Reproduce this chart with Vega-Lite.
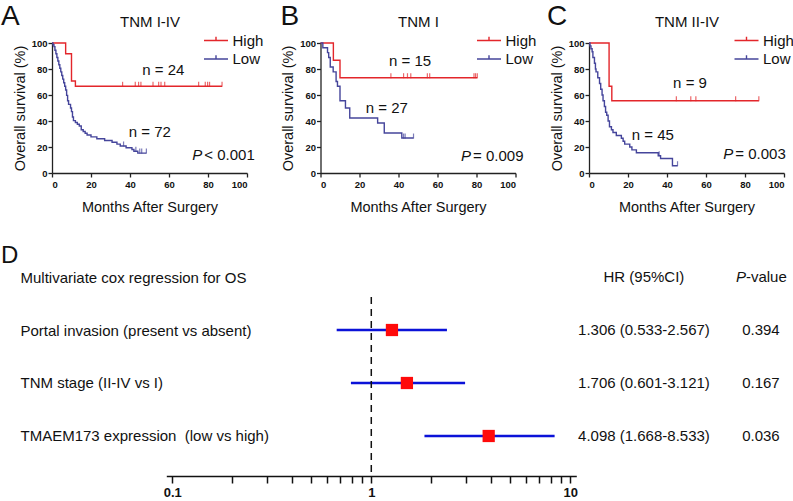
{
  "$schema": "https://vega.github.io/schema/vega-lite/v6.json",
  "background": "white",
  "padding": {"left": 1, "top": 3, "right": 0, "bottom": 0},
  "config": {
    "view": {"stroke": null},
    "font": "Liberation Sans, Arial, sans-serif",
    "axis": {"grid": false, "domainColor": "#222", "tickColor": "#222", "labelColor": "#111", "titleColor": "#111", "titleFontWeight": "normal"},
    "title": {"color": "#111", "fontWeight": "normal"},
    "text": {"color": "#111"},
    "legend": {"title": null, "orient": "none", "symbolType": "M-1.6,0L1.6,0M0,0L0,-0.5", "symbolSize": 225, "symbolStrokeWidth": 1.4, "labelFontSize": 15, "labelOffset": 8, "rowPadding": 1.5, "labelColor": "#111"}
  },
  "datasets": {
    "km": [
      {"panel":"A","group":"High","month":0,"surv":100},
      {"panel":"A","group":"High","month":7,"surv":91.7},
      {"panel":"A","group":"High","month":10,"surv":70.8},
      {"panel":"A","group":"High","month":12,"surv":66.7},
      {"panel":"A","group":"High","month":87.2,"surv":66.7},
      {"panel":"A","group":"Low","month":0,"surv":100},
      {"panel":"A","group":"Low","month":0.5,"surv":98.6},
      {"panel":"A","group":"Low","month":1,"surv":97.2},
      {"panel":"A","group":"Low","month":1.5,"surv":94.4},
      {"panel":"A","group":"Low","month":2,"surv":91.7},
      {"panel":"A","group":"Low","month":2.5,"surv":88.9},
      {"panel":"A","group":"Low","month":3,"surv":86.1},
      {"panel":"A","group":"Low","month":3.5,"surv":83.3},
      {"panel":"A","group":"Low","month":4,"surv":80.6},
      {"panel":"A","group":"Low","month":4.5,"surv":77.8},
      {"panel":"A","group":"Low","month":5,"surv":75},
      {"panel":"A","group":"Low","month":5.5,"surv":72.2},
      {"panel":"A","group":"Low","month":6,"surv":69.4},
      {"panel":"A","group":"Low","month":6.5,"surv":66.7},
      {"panel":"A","group":"Low","month":7,"surv":63.9},
      {"panel":"A","group":"Low","month":7.5,"surv":59.7},
      {"panel":"A","group":"Low","month":8,"surv":55.6},
      {"panel":"A","group":"Low","month":8.5,"surv":52.8},
      {"panel":"A","group":"Low","month":9.5,"surv":50},
      {"panel":"A","group":"Low","month":10,"surv":47.2},
      {"panel":"A","group":"Low","month":10.5,"surv":43.1},
      {"panel":"A","group":"Low","month":11,"surv":40.3},
      {"panel":"A","group":"Low","month":12,"surv":38.9},
      {"panel":"A","group":"Low","month":13,"surv":37.5},
      {"panel":"A","group":"Low","month":14,"surv":36.1},
      {"panel":"A","group":"Low","month":15,"surv":33.3},
      {"panel":"A","group":"Low","month":16,"surv":31.9},
      {"panel":"A","group":"Low","month":17,"surv":30.6},
      {"panel":"A","group":"Low","month":18,"surv":29.2},
      {"panel":"A","group":"Low","month":20,"surv":27.8},
      {"panel":"A","group":"Low","month":23,"surv":26.4},
      {"panel":"A","group":"Low","month":27,"surv":25},
      {"panel":"A","group":"Low","month":30.8,"surv":23.6},
      {"panel":"A","group":"Low","month":33.3,"surv":22.2},
      {"panel":"A","group":"Low","month":35,"surv":20.8},
      {"panel":"A","group":"Low","month":38,"surv":19.4},
      {"panel":"A","group":"Low","month":41,"surv":18.1},
      {"panel":"A","group":"Low","month":42,"surv":16.7},
      {"panel":"A","group":"Low","month":44,"surv":15.3},
      {"panel":"A","group":"Low","month":48.4,"surv":15.3},
      {"panel":"B","group":"High","month":0,"surv":100},
      {"panel":"B","group":"High","month":6.6,"surv":86.7},
      {"panel":"B","group":"High","month":10,"surv":73.3},
      {"panel":"B","group":"High","month":80.4,"surv":73.3},
      {"panel":"B","group":"Low","month":0,"surv":100},
      {"panel":"B","group":"Low","month":1.2,"surv":96.3},
      {"panel":"B","group":"Low","month":3.6,"surv":92.6},
      {"panel":"B","group":"Low","month":4.2,"surv":88.9},
      {"panel":"B","group":"Low","month":5,"surv":81.5},
      {"panel":"B","group":"Low","month":6.5,"surv":77.8},
      {"panel":"B","group":"Low","month":8,"surv":70.4},
      {"panel":"B","group":"Low","month":8.7,"surv":66.7},
      {"panel":"B","group":"Low","month":10,"surv":55.6},
      {"panel":"B","group":"Low","month":12.8,"surv":50},
      {"panel":"B","group":"Low","month":15,"surv":42.3},
      {"panel":"B","group":"Low","month":29.3,"surv":38.5},
      {"panel":"B","group":"Low","month":32.7,"surv":30.8},
      {"panel":"B","group":"Low","month":41.7,"surv":26.9},
      {"panel":"B","group":"Low","month":47.7,"surv":26.9},
      {"panel":"C","group":"High","month":0,"surv":100},
      {"panel":"C","group":"High","month":10.3,"surv":66.7},
      {"panel":"C","group":"High","month":11.7,"surv":55.6},
      {"panel":"C","group":"High","month":87.1,"surv":55.6},
      {"panel":"C","group":"Low","month":0,"surv":100},
      {"panel":"C","group":"Low","month":0.5,"surv":97.8},
      {"panel":"C","group":"Low","month":1,"surv":95.6},
      {"panel":"C","group":"Low","month":1.6,"surv":93.3},
      {"panel":"C","group":"Low","month":2,"surv":88.9},
      {"panel":"C","group":"Low","month":2.8,"surv":84.4},
      {"panel":"C","group":"Low","month":3.3,"surv":80},
      {"panel":"C","group":"Low","month":3.6,"surv":77.8},
      {"panel":"C","group":"Low","month":4.5,"surv":73.3},
      {"panel":"C","group":"Low","month":5.4,"surv":68.9},
      {"panel":"C","group":"Low","month":6,"surv":64.4},
      {"panel":"C","group":"Low","month":6.7,"surv":60},
      {"panel":"C","group":"Low","month":7.2,"surv":55.6},
      {"panel":"C","group":"Low","month":7.9,"surv":51.1},
      {"panel":"C","group":"Low","month":8.5,"surv":46.7},
      {"panel":"C","group":"Low","month":9.1,"surv":44.4},
      {"panel":"C","group":"Low","month":9.8,"surv":40},
      {"panel":"C","group":"Low","month":10.5,"surv":35.6},
      {"panel":"C","group":"Low","month":11.5,"surv":33.3},
      {"panel":"C","group":"Low","month":12.3,"surv":31.1},
      {"panel":"C","group":"Low","month":14,"surv":28.9},
      {"panel":"C","group":"Low","month":16.6,"surv":26.7},
      {"panel":"C","group":"Low","month":17.5,"surv":24.4},
      {"panel":"C","group":"Low","month":18.3,"surv":22.2},
      {"panel":"C","group":"Low","month":20.9,"surv":20},
      {"panel":"C","group":"Low","month":22,"surv":17.8},
      {"panel":"C","group":"Low","month":24.3,"surv":15.6},
      {"panel":"C","group":"Low","month":35.5,"surv":13.3},
      {"panel":"C","group":"Low","month":36.7,"surv":11.1},
      {"panel":"C","group":"Low","month":42.8,"surv":5.6},
      {"panel":"C","group":"Low","month":45.4,"surv":5.6}
    ],
    "censor": [
      {"panel":"A","group":"High","month":36.2,"surv":66.7},
      {"panel":"A","group":"High","month":42.7,"surv":66.7},
      {"panel":"A","group":"High","month":44.4,"surv":66.7},
      {"panel":"A","group":"High","month":45.6,"surv":66.7},
      {"panel":"A","group":"High","month":51.8,"surv":66.7},
      {"panel":"A","group":"High","month":54.7,"surv":66.7},
      {"panel":"A","group":"High","month":55.9,"surv":66.7},
      {"panel":"A","group":"High","month":57.8,"surv":66.7},
      {"panel":"A","group":"High","month":75.2,"surv":66.7},
      {"panel":"A","group":"High","month":78.6,"surv":66.7},
      {"panel":"A","group":"High","month":79.8,"surv":66.7},
      {"panel":"A","group":"High","month":80.8,"surv":66.7},
      {"panel":"A","group":"High","month":87.2,"surv":66.7},
      {"panel":"A","group":"Low","month":36.7,"surv":20.8},
      {"panel":"A","group":"Low","month":43,"surv":16.7},
      {"panel":"A","group":"Low","month":45,"surv":15.3},
      {"panel":"A","group":"Low","month":46,"surv":15.3},
      {"panel":"A","group":"Low","month":48.4,"surv":15.3},
      {"panel":"B","group":"High","month":36.1,"surv":73.3},
      {"panel":"B","group":"High","month":42.6,"surv":73.3},
      {"panel":"B","group":"High","month":44.6,"surv":73.3},
      {"panel":"B","group":"High","month":46.3,"surv":73.3},
      {"panel":"B","group":"High","month":54.8,"surv":73.3},
      {"panel":"B","group":"High","month":56,"surv":73.3},
      {"panel":"B","group":"High","month":78.7,"surv":73.3},
      {"panel":"B","group":"High","month":79.5,"surv":73.3},
      {"panel":"B","group":"High","month":80.4,"surv":73.3},
      {"panel":"B","group":"Low","month":42.6,"surv":26.9},
      {"panel":"B","group":"Low","month":43.4,"surv":26.9},
      {"panel":"B","group":"Low","month":47.7,"surv":26.9},
      {"panel":"C","group":"High","month":44.8,"surv":55.6},
      {"panel":"C","group":"High","month":52.2,"surv":55.6},
      {"panel":"C","group":"High","month":54.8,"surv":55.6},
      {"panel":"C","group":"High","month":75.2,"surv":55.6},
      {"panel":"C","group":"High","month":87.1,"surv":55.6},
      {"panel":"C","group":"Low","month":36,"surv":13.3},
      {"panel":"C","group":"Low","month":45.4,"surv":5.6}
    ],
    "forest": [
      {"row":"Portal invasion (present vs absent)","hr":1.27,"lo":0.67,"hi":2.4},
      {"row":"TNM stage (II-IV vs I)","hr":1.51,"lo":0.79,"hi":2.96},
      {"row":"TMAEM173 expression \u00a0(low vs high)","hr":3.89,"lo":1.85,"hi":8.34}
    ],
    "table": [
      {"row":"Multivariate cox regression for OS","col":"HR (95%CI)","text":"HR (95%CI)"},
      {"row":"Portal invasion (present vs absent)","col":"HR (95%CI)","text":"1.306 (0.533-2.567)"},
      {"row":"Portal invasion (present vs absent)","col":"P-value","text":"0.394"},
      {"row":"TNM stage (II-IV vs I)","col":"HR (95%CI)","text":"1.706 (0.601-3.121)"},
      {"row":"TNM stage (II-IV vs I)","col":"P-value","text":"0.167"},
      {"row":"TMAEM173 expression \u00a0(low vs high)","col":"HR (95%CI)","text":"4.098 (1.668-8.533)"},
      {"row":"TMAEM173 expression \u00a0(low vs high)","col":"P-value","text":"0.036"}
    ]
  },
  "spacing": 23,
  "resolve": {"scale": {"color": "independent"}, "legend": {"color": "independent"}},
  "vconcat": [
    {
      "hconcat": [
        {
          "width": 195, "height": 130,
          "title": {"text": "A", "anchor": "start", "frame": "group", "dx": -51, "fontSize": 28, "offset": -17},
          "layer": [
            {
              "data": {"name": "km"},
              "transform": [{"filter": "datum.panel === 'A'"}],
              "mark": {"type": "line", "interpolate": "step-after", "strokeWidth": 1.4},
              "encoding": {
                "x": {"field": "month", "type": "quantitative", "scale": {"domain": [0, 100]}, "axis": {"orient": "bottom", "title": "Months After Surgery", "values": [0,20,40,60,80,100], "tickSize": 4, "tickWidth": 1.3, "domainWidth": 1.3, "labelFontSize": 9.5, "labelFontWeight": "bold", "labelFont": "Liberation Sans Narrow, Liberation Sans", "labelPadding": 2, "titleFontSize": 14.5, "titlePadding": 12}},
                "y": {"field": "surv", "type": "quantitative", "scale": {"domain": [0, 100]}, "axis": {"title": "Overall survival (%)", "values": [0,20,40,60,80,100], "tickSize": 4, "tickWidth": 1.3, "domainWidth": 1.3, "labelFontSize": 9.5, "labelFontWeight": "bold", "labelFont": "Liberation Sans Narrow, Liberation Sans", "labelPadding": 1, "titleFontSize": 14.5, "titlePadding": 4}},
                "color": {"field": "group", "type": "nominal", "scale": {"domain": ["High", "Low"], "range": ["#e3262b", "#45459b"]}, "legend": {"legendX": 155.5, "legendY": -11}}
              }
            },
            {
              "data": {"name": "censor"},
              "transform": [{"filter": "datum.panel === 'A'"}],
              "mark": {"type": "tick", "orient": "vertical", "size": 5, "thickness": 1.2, "yOffset": -2},
              "encoding": {
                "x": {"field": "month", "type": "quantitative", "scale": {"domain": [0, 100]}, "axis": {"orient": "top", "title": "TNM I-IV", "labels": false, "ticks": false, "domain": false, "titleFontSize": 15, "titlePadding": 14}},
                "y": {"field": "surv", "type": "quantitative", "scale": {"domain": [0, 100]}, "axis": null},
                "color": {"field": "group", "type": "nominal", "legend": null}
              }
            },
            {
              "data": {"values": [{}]},
              "mark": {"type": "text", "fontSize": 15, "baseline": "middle"},
              "encoding": {"x": {"datum": 57.1, "type": "quantitative", "scale": {"domain": [0, 100]}, "axis": null}, "y": {"datum": 79.2, "type": "quantitative", "scale": {"domain": [0, 100]}, "axis": null}, "text": {"value": "n = 24"}}
            },
            {
              "data": {"values": [{}]},
              "mark": {"type": "text", "fontSize": 15, "baseline": "middle"},
              "encoding": {"x": {"datum": 50.2, "type": "quantitative", "scale": {"domain": [0, 100]}, "axis": null}, "y": {"datum": 31.8, "type": "quantitative", "scale": {"domain": [0, 100]}, "axis": null}, "text": {"value": "n = 72"}}
            },
            {
              "data": {"values": [{}]},
              "mark": {"type": "text", "fontSize": 15, "fontStyle": "italic", "align": "right", "baseline": "middle"},
              "encoding": {"x": {"datum": 77.1, "type": "quantitative", "scale": {"domain": [0, 100]}, "axis": null}, "y": {"datum": 13.8, "type": "quantitative", "scale": {"domain": [0, 100]}, "axis": null}, "text": {"value": "P"}}
            },
            {
              "data": {"values": [{}]},
              "mark": {"type": "text", "fontSize": 15, "align": "left", "baseline": "middle", "dx": 2},
              "encoding": {"x": {"datum": 77.1, "type": "quantitative", "scale": {"domain": [0, 100]}, "axis": null}, "y": {"datum": 13.8, "type": "quantitative", "scale": {"domain": [0, 100]}, "axis": null}, "text": {"value": "\u00a0< 0.001"}}
            }
          ],
          "resolve": {"axis": {"x": "independent", "y": "independent"}}
        },
        {
          "width": 195, "height": 130,
          "title": {"text": "B", "anchor": "start", "frame": "group", "dx": -40, "fontSize": 28, "offset": -17},
          "layer": [
            {
              "data": {"name": "km"},
              "transform": [{"filter": "datum.panel === 'B'"}],
              "mark": {"type": "line", "interpolate": "step-after", "strokeWidth": 1.4},
              "encoding": {
                "x": {"field": "month", "type": "quantitative", "scale": {"domain": [0, 100]}, "axis": {"orient": "bottom", "title": "Months After Surgery", "values": [0,20,40,60,80,100], "tickSize": 4, "tickWidth": 1.3, "domainWidth": 1.3, "labelFontSize": 9.5, "labelFontWeight": "bold", "labelFont": "Liberation Sans Narrow, Liberation Sans", "labelPadding": 2, "titleFontSize": 14.5, "titlePadding": 12}},
                "y": {"field": "surv", "type": "quantitative", "scale": {"domain": [0, 100]}, "axis": {"title": "Overall survival (%)", "values": [0,20,40,60,80,100], "tickSize": 4, "tickWidth": 1.3, "domainWidth": 1.3, "labelFontSize": 9.5, "labelFontWeight": "bold", "labelFont": "Liberation Sans Narrow, Liberation Sans", "labelPadding": 1, "titleFontSize": 14.5, "titlePadding": 4}},
                "color": {"field": "group", "type": "nominal", "scale": {"domain": ["High", "Low"], "range": ["#e3262b", "#45459b"]}, "legend": {"legendX": 160, "legendY": -11}}
              }
            },
            {
              "data": {"name": "censor"},
              "transform": [{"filter": "datum.panel === 'B'"}],
              "mark": {"type": "tick", "orient": "vertical", "size": 5, "thickness": 1.2, "yOffset": -2},
              "encoding": {
                "x": {"field": "month", "type": "quantitative", "scale": {"domain": [0, 100]}, "axis": {"orient": "top", "title": "TNM I", "labels": false, "ticks": false, "domain": false, "titleFontSize": 15, "titlePadding": 14}},
                "y": {"field": "surv", "type": "quantitative", "scale": {"domain": [0, 100]}, "axis": null},
                "color": {"field": "group", "type": "nominal", "legend": null}
              }
            },
            {
              "data": {"values": [{}]},
              "mark": {"type": "text", "fontSize": 15, "baseline": "middle"},
              "encoding": {"x": {"datum": 45.9, "type": "quantitative", "scale": {"domain": [0, 100]}, "axis": null}, "y": {"datum": 86.3, "type": "quantitative", "scale": {"domain": [0, 100]}, "axis": null}, "text": {"value": "n = 15"}}
            },
            {
              "data": {"values": [{}]},
              "mark": {"type": "text", "fontSize": 15, "baseline": "middle"},
              "encoding": {"x": {"datum": 34, "type": "quantitative", "scale": {"domain": [0, 100]}, "axis": null}, "y": {"datum": 49.7, "type": "quantitative", "scale": {"domain": [0, 100]}, "axis": null}, "text": {"value": "n = 27"}}
            },
            {
              "data": {"values": [{}]},
              "mark": {"type": "text", "fontSize": 15, "fontStyle": "italic", "align": "right", "baseline": "middle"},
              "encoding": {"x": {"datum": 77.2, "type": "quantitative", "scale": {"domain": [0, 100]}, "axis": null}, "y": {"datum": 13.4, "type": "quantitative", "scale": {"domain": [0, 100]}, "axis": null}, "text": {"value": "P"}}
            },
            {
              "data": {"values": [{}]},
              "mark": {"type": "text", "fontSize": 15, "align": "left", "baseline": "middle", "dx": 2},
              "encoding": {"x": {"datum": 77.2, "type": "quantitative", "scale": {"domain": [0, 100]}, "axis": null}, "y": {"datum": 13.4, "type": "quantitative", "scale": {"domain": [0, 100]}, "axis": null}, "text": {"value": "\u00a0= 0.009"}}
            }
          ],
          "resolve": {"axis": {"x": "independent", "y": "independent"}}
        },
        {
          "width": 195, "height": 130,
          "title": {"text": "C", "anchor": "start", "frame": "group", "dx": -42, "fontSize": 28, "offset": -17},
          "layer": [
            {
              "data": {"name": "km"},
              "transform": [{"filter": "datum.panel === 'C'"}],
              "mark": {"type": "line", "interpolate": "step-after", "strokeWidth": 1.4},
              "encoding": {
                "x": {"field": "month", "type": "quantitative", "scale": {"domain": [0, 100]}, "axis": {"orient": "bottom", "title": "Months After Surgery", "values": [0,20,40,60,80,100], "tickSize": 4, "tickWidth": 1.3, "domainWidth": 1.3, "labelFontSize": 9.5, "labelFontWeight": "bold", "labelFont": "Liberation Sans Narrow, Liberation Sans", "labelPadding": 2, "titleFontSize": 14.5, "titlePadding": 12}},
                "y": {"field": "surv", "type": "quantitative", "scale": {"domain": [0, 100]}, "axis": {"title": "Overall survival (%)", "values": [0,20,40,60,80,100], "tickSize": 4, "tickWidth": 1.3, "domainWidth": 1.3, "labelFontSize": 9.5, "labelFontWeight": "bold", "labelFont": "Liberation Sans Narrow, Liberation Sans", "labelPadding": 1, "titleFontSize": 14.5, "titlePadding": 4}},
                "color": {"field": "group", "type": "nominal", "scale": {"domain": ["High", "Low"], "range": ["#e3262b", "#45459b"]}, "legend": {"legendX": 149, "legendY": -11}}
              }
            },
            {
              "data": {"name": "censor"},
              "transform": [{"filter": "datum.panel === 'C'"}],
              "mark": {"type": "tick", "orient": "vertical", "size": 5, "thickness": 1.2, "yOffset": -2},
              "encoding": {
                "x": {"field": "month", "type": "quantitative", "scale": {"domain": [0, 100]}, "axis": {"orient": "top", "title": "TNM II-IV", "labels": false, "ticks": false, "domain": false, "titleFontSize": 15, "titlePadding": 14}},
                "y": {"field": "surv", "type": "quantitative", "scale": {"domain": [0, 100]}, "axis": null},
                "color": {"field": "group", "type": "nominal", "legend": null}
              }
            },
            {
              "data": {"values": [{}]},
              "mark": {"type": "text", "fontSize": 15, "baseline": "middle"},
              "encoding": {"x": {"datum": 51.8, "type": "quantitative", "scale": {"domain": [0, 100]}, "axis": null}, "y": {"datum": 69.6, "type": "quantitative", "scale": {"domain": [0, 100]}, "axis": null}, "text": {"value": "n = 9"}}
            },
            {
              "data": {"values": [{}]},
              "mark": {"type": "text", "fontSize": 15, "baseline": "middle"},
              "encoding": {"x": {"datum": 32.7, "type": "quantitative", "scale": {"domain": [0, 100]}, "axis": null}, "y": {"datum": 29.3, "type": "quantitative", "scale": {"domain": [0, 100]}, "axis": null}, "text": {"value": "n = 45"}}
            },
            {
              "data": {"values": [{}]},
              "mark": {"type": "text", "fontSize": 15, "fontStyle": "italic", "align": "right", "baseline": "middle"},
              "encoding": {"x": {"datum": 74, "type": "quantitative", "scale": {"domain": [0, 100]}, "axis": null}, "y": {"datum": 15, "type": "quantitative", "scale": {"domain": [0, 100]}, "axis": null}, "text": {"value": "P"}}
            },
            {
              "data": {"values": [{}]},
              "mark": {"type": "text", "fontSize": 15, "align": "left", "baseline": "middle", "dx": 2},
              "encoding": {"x": {"datum": 74, "type": "quantitative", "scale": {"domain": [0, 100]}, "axis": null}, "y": {"datum": 15, "type": "quantitative", "scale": {"domain": [0, 100]}, "axis": null}, "text": {"value": "\u00a0= 0.003"}}
            }
          ],
          "resolve": {"axis": {"x": "independent", "y": "independent"}}
        }
      ],
      "spacing": 73.5,
      "bounds": "flush",
      "resolve": {"scale": {"color": "independent"}, "legend": {"color": "independent"}}
    },
    {
      "hconcat": [
        {
          "width": 524.3, "height": 239,
          "title": {"text": "D", "anchor": "start", "frame": "group", "dx": -51, "fontSize": 24, "offset": -31},
          "encoding": {
            "y": {"field": "row", "type": "nominal", "sort": null, "scale": {"type": "point", "domain": ["Multivariate cox regression for OS", "Portal invasion (present vs absent)", "TNM stage (II-IV vs I)", "TMAEM173 expression \u00a0(low vs high)"], "padding": 0.755}, "axis": {"title": null, "orient": "left", "domain": false, "ticks": false, "labelAlign": "left", "labelBaseline": "middle", "labelPadding": 32, "labelFontSize": 15, "labelLimit": 0, "labelColor": "#111"}}
          },
          "layer": [
            {
              "data": {"name": "forest"},
              "mark": {"type": "rule", "strokeWidth": 2.5, "color": "#0b12d8"},
              "encoding": {
                "x": {"field": "lo", "type": "quantitative", "scale": {"type": "log", "domain": [0.0933, 10.72], "range": [114.3, 524.3], "nice": false}, "axis": {"title": null, "orient": "bottom", "values": [0.1,0.2,0.3,0.4,0.5,0.6,0.7,0.8,0.9,1,2,3,4,5,6,7,8,9,10], "labelExpr": "datum.value == 0.1 || datum.value == 1 || datum.value == 10 ? format(datum.value, '~g') : ''", "domainColor": "#111", "domainWidth": 1.5, "tickColor": "#111", "tickWidth": 1.5, "tickSize": 7, "labelFontWeight": "bold", "labelFontSize": 13, "labelPadding": 3, "labelColor": "#111"}},
                "x2": {"field": "hi"}
              }
            },
            {
              "data": {"name": "forest"},
              "mark": {"type": "square", "size": 150, "color": "#ff0a0a", "opacity": 1, "filled": true},
              "encoding": {
                "x": {"field": "hr", "type": "quantitative", "scale": {"type": "log", "domain": [0.0933, 10.72], "range": [114.3, 524.3], "nice": false}, "axis": null}
              }
            },
            {
              "data": {"values": [{}]},
              "mark": {"type": "rule", "strokeDash": [7, 5], "strokeWidth": 1.5, "color": "#111", "yOffset": -33, "y2Offset": 40},
              "encoding": {
                "x": {"datum": 1, "type": "quantitative", "scale": {"type": "log", "domain": [0.0933, 10.72], "range": [114.3, 524.3], "nice": false}, "axis": null},
                "y": {"datum": "Portal invasion (present vs absent)", "type": "nominal"},
                "y2": {"datum": "TMAEM173 expression \u00a0(low vs high)"}
              }
            }
          ],
          "resolve": {"axis": {"x": "independent"}}
        },
        {
          "width": 214, "height": 239,
          "encoding": {
            "y": {"field": "row", "type": "nominal", "sort": null, "scale": {"type": "point", "domain": ["Multivariate cox regression for OS", "Portal invasion (present vs absent)", "TNM stage (II-IV vs I)", "TMAEM173 expression \u00a0(low vs high)"], "padding": 0.755}, "axis": null}
          },
          "layer": [
            {
              "data": {"name": "table"},
              "mark": {"type": "text", "fontSize": 15, "align": "center", "baseline": "middle"},
              "encoding": {
                "x": {"field": "col", "type": "nominal", "sort": null, "scale": {"type": "point", "domain": ["HR (95%CI)", "P-value"], "padding": 0.4145, "align": 0.69}, "axis": null},
                "text": {"field": "text"}
              }
            },
            {
              "data": {"values": [{}]},
              "mark": {"type": "text", "fontSize": 15, "fontStyle": "italic", "align": "right", "baseline": "middle", "dx": -15},
              "encoding": {
                "x": {"datum": "P-value", "type": "nominal"},
                "y": {"datum": "Multivariate cox regression for OS", "type": "nominal"},
                "text": {"value": "P"}
              }
            },
            {
              "data": {"values": [{}]},
              "mark": {"type": "text", "fontSize": 15, "align": "left", "baseline": "middle", "dx": -15},
              "encoding": {
                "x": {"datum": "P-value", "type": "nominal"},
                "y": {"datum": "Multivariate cox regression for OS", "type": "nominal"},
                "text": {"value": "-value"}
              }
            }
          ]
        }
      ],
      "spacing": 0,
      "bounds": "flush"
    }
  ]
}
